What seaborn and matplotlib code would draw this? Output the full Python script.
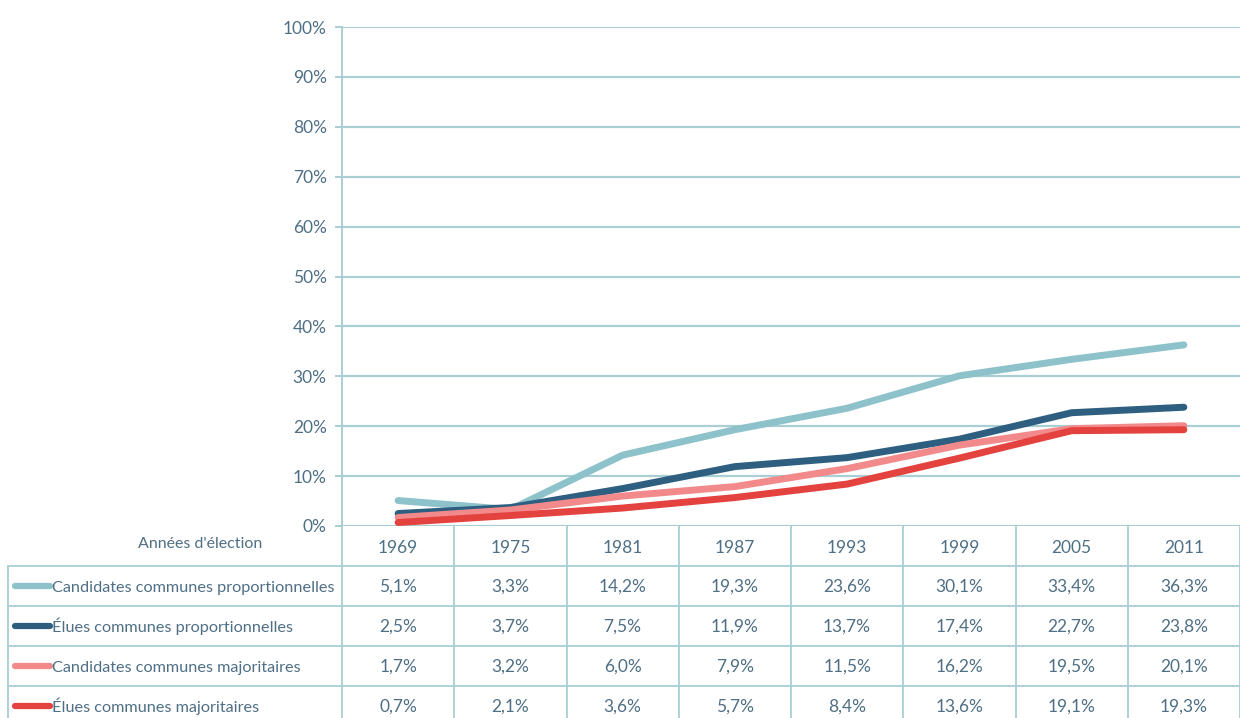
import matplotlib
matplotlib.use("Agg")
import matplotlib.pyplot as plt
from matplotlib.lines import Line2D
from matplotlib import font_manager
import seaborn as sns
import pandas as pd
import numpy as np

years = ["1969", "1975", "1981", "1987", "1993", "1999", "2005", "2011"]
series_names = [
    "Candidates communes proportionnelles",
    "Élues communes proportionnelles",
    "Candidates communes majoritaires",
    "Élues communes majoritaires",
]
cand_prop = [5.1, 3.3, 14.2, 19.3, 23.6, 30.1, 33.4, 36.3]
elues_prop = [2.5, 3.7, 7.5, 11.9, 13.7, 17.4, 22.7, 23.8]
cand_maj = [1.7, 3.2, 6.0, 7.9, 11.5, 16.2, 19.5, 20.1]
elues_maj = [0.7, 2.1, 3.6, 5.7, 8.4, 13.6, 19.1, 19.3]
all_values = [cand_prop, elues_prop, cand_maj, elues_maj]
colors = ["#8DC2CA", "#2E5F80", "#F28A8C", "#E4423F"]
yticks = [0, 10, 20, 30, 40, 50, 60, 70, 80, 90, 100]
axis_label = "Années d'élection"

sns.set_theme(style="white")
avail = {f.name for f in font_manager.fontManager.ttflist}
fam = "Liberation Sans Narrow" if "Liberation Sans Narrow" in avail else "Lato"
plt.rcParams["font.family"] = [fam, "DejaVu Sans"]

W, H = 1240, 718
fig = plt.figure(figsize=(W / 100, H / 100), dpi=100)
fig.patch.set_facecolor("white")

def fx(x):
    return x / W

def fy(y):
    return 1 - y / H

grid_c = "#A9CED4"
text_c = "#4F6F85"

left, right, top, bottom = 342, 1240, 27, 526
ax = fig.add_axes([fx(left), fy(bottom), fx(right) - fx(left), fy(top) - fy(bottom)])

df = pd.DataFrame({
    "idx": np.tile(np.arange(len(years)), len(series_names)),
    "value": np.concatenate(all_values),
    "serie": np.repeat(series_names, len(years)),
})
sns.lineplot(data=df, x="idx", y="value", hue="serie", hue_order=series_names,
             palette=colors, linewidth=5.0, ax=ax, legend=False)
for ln in ax.lines:
    ln.set_solid_capstyle("round")
    ln.set_solid_joinstyle("round")

ax.set_xlim(-0.5, len(years) - 0.5)
ax.set_ylim(0, 100)
ax.set_yticks(yticks)
ax.set_yticklabels([f"{v}%" for v in yticks], color=text_c, fontsize=12.5)
ax.set_xticks([])
ax.set_xlabel("")
ax.set_ylabel("")
ax.grid(axis="y", color=grid_c, linewidth=1.6)
ax.set_axisbelow(True)
for s in ["top", "right", "bottom"]:
    ax.spines[s].set_visible(False)
ax.spines["left"].set_color(grid_c)
ax.spines["left"].set_linewidth(1.4)
ax.tick_params(axis="y", length=5, width=1.4, color=grid_c, pad=6, left=True)
ax.set_facecolor("white")

# --- data table ---
col_w = (right - left) / len(years)
row_tops = [566, 606, 646, 686]
row_h = 40
lw = 1.3

def hline(x0, x1, y):
    fig.add_artist(Line2D([fx(x0), fx(x1)], [fy(y), fy(y)], color=grid_c, lw=lw))

def vline(x, y0, y1):
    fig.add_artist(Line2D([fx(x), fx(x)], [fy(y0), fy(y1)], color=grid_c, lw=lw))

for y in row_tops:
    hline(8, W, y)
vline(8, 566, H)
vline(left, bottom, H)
for k in range(1, len(years) + 1):
    vline(left + k * col_w, bottom, H)

fig.text(fx(200), fy(548), axis_label, ha="center", va="baseline", color=text_c, fontsize=11.5)
for k, yr in enumerate(years):
    fig.text(fx(left + (k + 0.5) * col_w), fy(553), yr, ha="center", va="baseline",
             color=text_c, fontsize=12.5)

for r, (name, vals, c) in enumerate(zip(series_names, all_values, colors)):
    yc = row_tops[r] + row_h / 2
    fig.add_artist(Line2D([fx(15), fx(50)], [fy(yc), fy(yc)], color=c, lw=4.5,
                          solid_capstyle="round"))
    fig.text(fx(52), fy(yc + 6), name, ha="left", va="baseline", color=text_c, fontsize=11.7)
    for k, v in enumerate(vals):
        fig.text(fx(left + (k + 0.5) * col_w), fy(yc + 6),
                 f"{v:.1f}%".replace(".", ","), ha="center", va="baseline",
                 color=text_c, fontsize=12.5)

fig.savefig("out.png", dpi=100, facecolor="white")
